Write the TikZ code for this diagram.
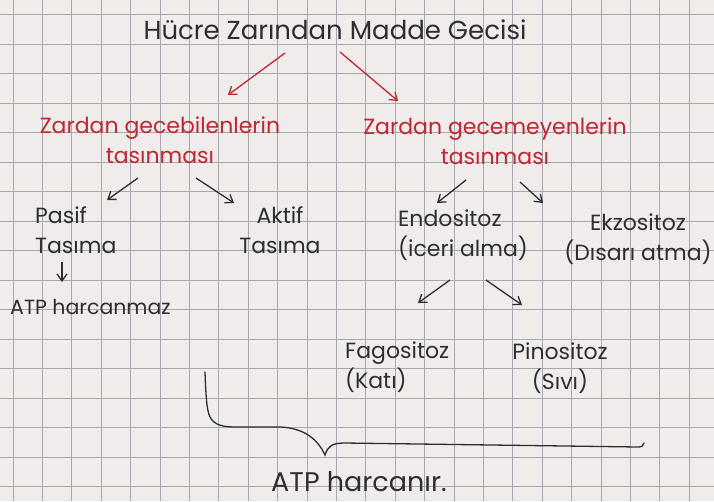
\documentclass[tikz,border=0pt]{standalone}
\usepackage{fontspec}
\setmainfont{Poppins}
\usetikzlibrary{arrows.meta}
\definecolor{paper}{RGB}{240,236,236}
\definecolor{gridgray}{RGB}{168,168,174}
\definecolor{pen}{RGB}{45,45,50}
\definecolor{redpen}{RGB}{196,38,48}
\tikzset{
  txt/.style={font=\fontsize{22}{30}\selectfont, text=pen, inner sep=0pt, align=center},
  bigtxt/.style={txt, font=\fontsize{26}{30}\selectfont},
  redtxt/.style={txt, text=redpen},
  arr/.style={-{Straight Barb[length=7pt,width=10pt]}, line width=1.3pt, pen},
  redarr/.style={arr, redpen},
}
\begin{document}
\begin{tikzpicture}[x=1pt,y=-1pt]
\fill[paper] (0,0) rectangle (714,501);
\useasboundingbox (0,0) rectangle (714,501);
% squared paper
\foreach \gx in {13,42.4,...,714}
  \draw[gridgray, line width=0.8pt] (\gx,0) -- (\gx,501);
\foreach \gy in {14.7,44.2,...,501}
  \draw[gridgray, line width=0.8pt] (0,\gy) -- (714,\gy);
% title
\node[bigtxt] (title) at (335,30) {Hücre Zarından Madde Gecisi};
% red branches
\node[redtxt] (gecen) at (160,140) {Zardan gecebilenlerin\\tasınması};
\node[redtxt] (gecmeyen) at (495,141) {Zardan gecemeyenlerin\\tasınması};
\coordinate (t1) at (285,53); \coordinate (t2) at (228,95);
\coordinate (t3) at (340,52); \coordinate (t4) at (398,101);
\draw[redarr] (t1) -- (t2);
\draw[redarr] (t3) -- (t4);
% passing through the membrane
\node[txt, align=left, anchor=west] (pasif) at (35,230) {Pasif\\Tasıma};
\node[txt] (aktif) at (280,230) {Aktif\\Tasıma};
\node[txt, font=\fontsize{20.5}{30}\selectfont, anchor=west] (atpyok) at (10,307) {ATP harcanmaz};
\coordinate (p1) at (138,178); \coordinate (p2) at (107,200);
\coordinate (a1) at (196,178); \coordinate (a2) at (234,203);
\coordinate (d1) at (62,262); \coordinate (d2) at (62,282);
\draw[arr] (p1) -- (p2);
\draw[arr] (a1) -- (a2);
\draw[arr] (d1) -- (d2);
% not passing through the membrane
\node[txt, align=left, anchor=west] (endo) at (398,235) {Endositoz\\(iceri alma)};
\node[txt] (ekzo) at (638,239) {Ekzositoz\\(Dısarı atma)};
\coordinate (e1) at (466,180); \coordinate (e2) at (437,203);
\coordinate (k1) at (520,182); \coordinate (k2) at (543,203);
\draw[arr] (e1) -- (e2);
\draw[arr] (k1) -- (k2);
% endocytosis types
\node[txt, align=left, anchor=west] (fago) at (345,367) {Fagositoz\\(Katı)};
\node[txt] (pino) at (560,368) {Pinositoz\\(Sıvı)};
\coordinate (f1) at (450,280); \coordinate (f2) at (418,303);
\coordinate (n1) at (486,280); \coordinate (n2) at (522,305);
\draw[arr] (f1) -- (f2);
\draw[arr] (n1) -- (n2);
% brace
\draw[pen, line width=1.3pt, line cap=round]
  (205,372) .. controls (206,400) and (207,415) .. (212,420)
  .. controls (218,427) and (228,427) .. (240,427)
  -- (280,427) .. controls (305,428) and (318,440) .. (325,455)
  .. controls (328,446) and (332,443) .. (345,443)
  -- (638,447) .. controls (642,447) and (643,446) .. (644,443);
\node[txt, font=\fontsize{27}{30}\selectfont] (atpvar) at (359,482) {ATP harcanır.};
\end{tikzpicture}
\end{document}
